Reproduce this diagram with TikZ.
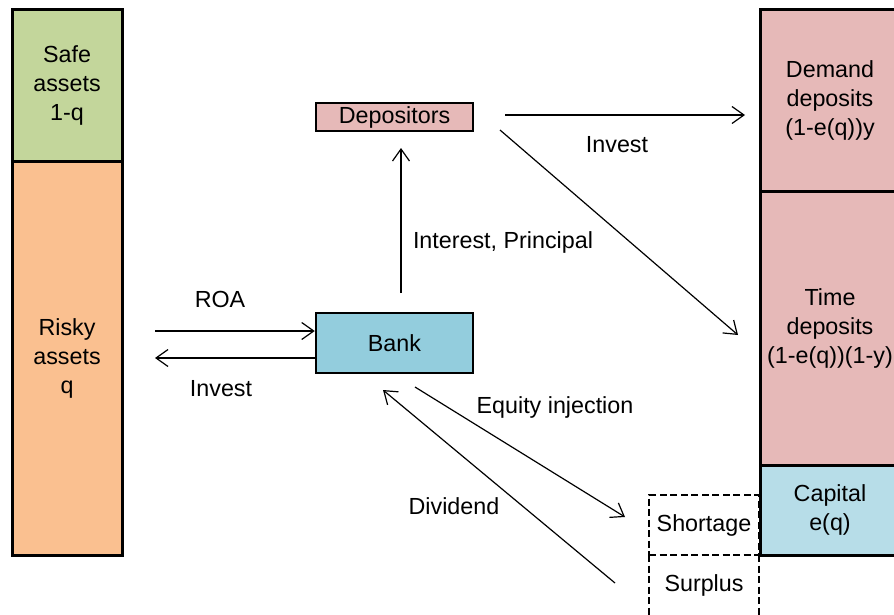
\documentclass[tikz,border=0pt]{standalone}
\usepackage{fontspec}
\setmainfont{Liberation Sans}
\usetikzlibrary{arrows.meta}
\definecolor{safeg}{HTML}{C3D69B}
\definecolor{riskyo}{HTML}{FAC090}
\definecolor{depp}{HTML}{E6B9B8}
\definecolor{capb}{HTML}{B7DDE8}
\definecolor{bankb}{HTML}{93CDDD}
\tikzset{
  col/.style={draw=black, line width=3pt, rectangle, inner sep=0pt, align=center},
  actor/.style={draw=black, line width=2.5pt, rectangle, inner sep=0pt, minimum width=157pt},
  dashline/.style={line width=2.8pt, dash pattern=on 7pt off 3.5pt},
  dbox/.style={draw=black, dashline, rectangle, inner sep=0pt, minimum width=110pt},
  lbl/.style={inner sep=0pt},
  flow/.style={line width=1.2pt, -{Straight Barb[length=12pt,width=17pt,line width=1.2pt]}},
  every node/.style={font=\fontsize{23.3}{29}\selectfont}
}
\begin{document}
\begin{tikzpicture}[x=1pt,y=-1pt]
\useasboundingbox (0,0) rectangle (894,614);
% left column
\node[col, fill=safeg, minimum width=110pt, minimum height=152pt] (safe) at (67,85) {Safe\\assets\\1-q};
\node[col, fill=riskyo, minimum width=110pt, minimum height=394pt] (risky) at (67,358) {Risky\\assets\\q};
% right column
\node[col, fill=depp, minimum width=140pt, minimum height=182pt] (demand) at (830,100) {Demand\\deposits\\(1-e(q))y};
\node[col, fill=depp, minimum width=140pt, minimum height=274pt] (time) at (830,328) {Time\\deposits\\(1-e(q))(1-y)};
\node[col, fill=capb, minimum width=140pt, minimum height=90pt] (capital) at (830,510) {Capital\\e(q)};
% dashed boxes
\node[dbox, minimum height=60pt] (shortage) at (704,525) {Shortage};
\draw[dashline] (649,555) -- (649,630) (759,555) -- (759,630);
\node[lbl] (surplus) at (704,585) {Surplus};
% actors
\node[actor, fill=depp, minimum height=28pt] (dep) at (394.5,117) {Depositors};
\node[actor, fill=bankb, minimum height=60pt] (bank) at (394.5,343) {Bank};
% coordinates
\coordinate (roaS) at (155,331);
\coordinate (invE) at (155,358);
\coordinate (ipS) at (401,293);
\coordinate (ipE) at (401,148);
\coordinate (ddS) at (505,115);
\coordinate (ddE) at (745,115);
\coordinate (tdS) at (500,130);
\coordinate (tdE) at (738,335);
\coordinate (eqS) at (415,387);
\coordinate (eqE) at (625,517);
\coordinate (dvS) at (615,583);
\coordinate (dvE) at (383,390);
% arrows
\draw[flow] (roaS) -- (bank.west |- roaS);
\draw[flow] (bank.west |- invE) -- (invE);
\draw[flow] (ipS) -- (ipE);
\draw[flow] (ddS) -- (ddE);
\draw[flow] (tdS) -- (tdE);
\draw[flow] (eqS) -- (eqE);
\draw[flow] (dvS) -- (dvE);
% labels
\node[lbl] (roa) at (220,299) {ROA};
\node[lbl] (inv1) at (221,389) {Invest};
\node[lbl] (ip) at (503,242) {Interest, Principal};
\node[lbl] (inv2) at (617,145) {Invest};
\node[lbl] (eq) at (555,407) {Equity injection};
\node[lbl] (dv) at (454,506) {Dividend};
\end{tikzpicture}
\end{document}
